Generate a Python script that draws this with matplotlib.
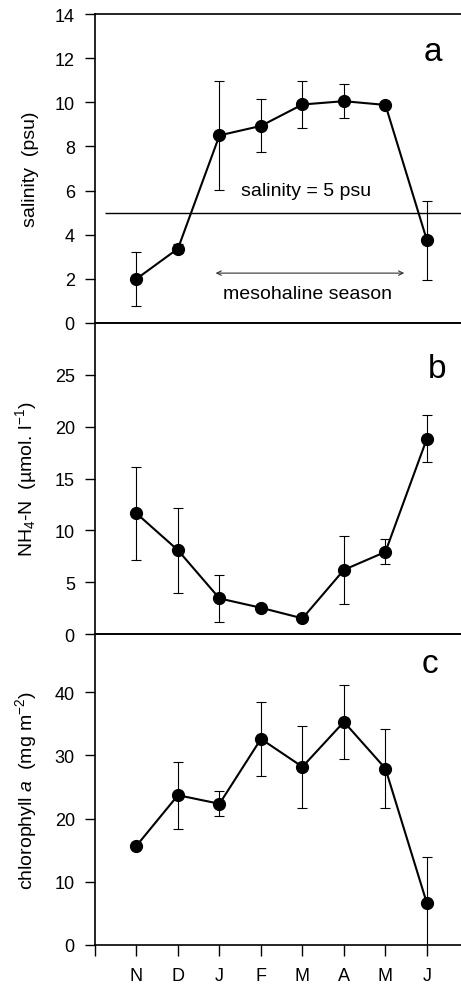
import numpy as np
import matplotlib
matplotlib.use("Agg")
import matplotlib.pyplot as plt

plt.rcParams["font.family"] = ["Liberation Sans", "DejaVu Sans"]
plt.rcParams["mathtext.fontset"] = "custom"
plt.rcParams["mathtext.rm"] = "Liberation Sans"
plt.rcParams["mathtext.it"] = "Liberation Sans:italic"

months = ["N", "D", "J", "F", "M", "A", "M", "J"]

salinity = [2.0, 3.37, 8.5, 8.93, 9.9, 10.05, 9.88, 3.75]
salinity_err = [1.22, 0.2, 2.47, 1.2, 1.08, 0.77, 0.0, 1.8]

nh4 = [11.63, 8.08, 3.43, 2.53, 1.51, 6.19, 7.92, 18.85]
nh4_err = [4.5, 4.1, 2.3, 0.0, 0.3, 3.3, 1.2, 2.3]

chla = [15.7, 23.7, 22.34, 32.6, 28.19, 35.3, 27.92, 6.59]
chla_err = [0.5, 5.3, 2.0, 5.9, 6.5, 5.8, 6.3, 7.4]

TICK_FS = 13
LABEL_FS = 14
NOTE_FS = 14
W, H = 461, 987
fig = plt.figure(figsize=(W / 100, H / 100), dpi=100)

# panels stacked with shared borders; right edge runs off the page like the scan
left = 95 / W
width = (468.4 - 95) / W
ax_a = fig.add_axes([left, 1 - 324 / H, width, 309 / H])
ax_b = fig.add_axes([left, 1 - 635 / H, width, 311 / H])
ax_c = fig.add_axes([left, 1 - 946 / H, width, 311 / H])

x = np.arange(len(months))
panels = [
    (ax_a, salinity, salinity_err, (0, 14), np.arange(0, 15, 2), "salinity  (psu)", "a", (0.905, 0.88)),
    (ax_b, nh4, nh4_err, (0, 30), np.arange(0, 26, 5), r"NH$_4$-N  (µmol. l$^{-1}$)", "b", (0.916, 0.855)),
    (ax_c, chla, chla_err, (0, 49.2), np.arange(0, 41, 10), r"chlorophyll $\mathit{a}$  (mg m$^{-2}$)", "c", (0.897, 0.906)),
]

for ax, y, yerr, ylim, yticks, ylabel, letter, lpos in panels:
    ax.errorbar(x, y, yerr=yerr, fmt="none", ecolor="black", elinewidth=0.8,
                capsize=3.5, capthick=0.8, zorder=2)
    ax.plot(x, y, "-o", color="black", lw=1.5, ms=8.5, zorder=3)
    ax.set_xlim(-1, 8)
    ax.set_ylim(*ylim)
    ax.set_yticks(yticks)
    ax.tick_params(axis="y", direction="out", length=7, width=1, labelsize=TICK_FS, pad=7.5)
    for s in ax.spines.values():
        s.set_linewidth(1.2)
    ax.set_ylabel(ylabel, fontsize=LABEL_FS)
    ax.yaxis.set_label_coords(-0.15, 0.5)
    ax.text(lpos[0], lpos[1], letter, transform=ax.transAxes, fontsize=24,
            ha="center", va="center")
    ax.set_facecolor("none")

for ax in (ax_a, ax_b):
    ax.set_xticks([])

ax_c.set_xticks(np.arange(-1, 8))
ax_c.set_xticklabels([""] + months)
ax_c.tick_params(axis="x", direction="out", length=8, width=1, labelsize=TICK_FS, pad=8)

# salinity threshold and mesohaline season
ax_a.hlines(5, -0.75, 8, color="black", lw=1)
ax_a.text(4.08, 6.0, "salinity = 5 psu", fontsize=NOTE_FS, ha="center", va="center")
ax_a.annotate("", xy=(6.52, 2.26), xytext=(1.84, 2.26),
              arrowprops=dict(arrowstyle="<->", color="#333333", lw=0.8, mutation_scale=8))
ax_a.text(4.13, 1.35, "mesohaline season", fontsize=NOTE_FS, ha="center", va="center")

fig.savefig("out.png", dpi=100)
